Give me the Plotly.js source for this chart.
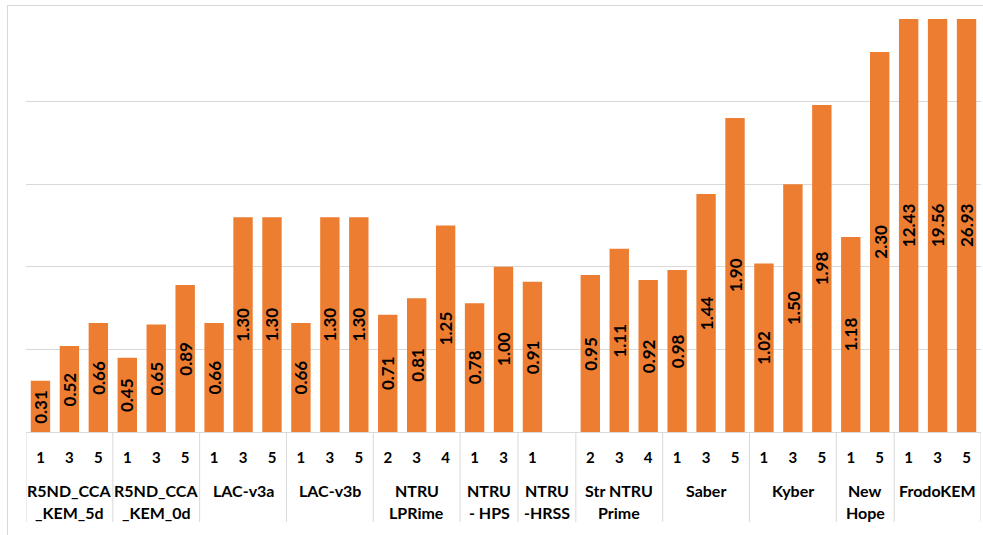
<!DOCTYPE html>
<html><head><meta charset="utf-8">
<script src="https://cdn.plot.ly/plotly-3.0.1.min.js"></script>
<style>
html,body{margin:0;padding:0;background:#fff;overflow:hidden}
#wrap{position:relative;width:983px;height:535px;overflow:hidden}
#chart{width:983px;height:535px}
#frame{position:absolute;left:7px;top:5px;width:1100px;height:700px;border:1px solid #d9d9d9;pointer-events:none}
</style></head><body>
<div id="wrap"><div id="chart"></div><div id="frame"></div></div>
<script>
const groups = ['R5ND_CCA<br>_KEM_5d', 'R5ND_CCA<br>_KEM_0d', 'LAC-v3a', 'LAC-v3b', 'NTRU<br>LPRime',
  'NTRU<br>- HPS', 'NTRU<br>-HRSS', 'Str NTRU<br>Prime', 'Saber', 'Kyber', 'New<br>Hope', 'FrodoKEM'];
const levels = [['1','3','5'], ['1','3','5'], ['1','3','5'], ['1','3','5'], ['2','3','4'], ['1','3'],
  ['1',''], ['2','3','4'], ['1','3','5'], ['1','3','5'], ['1','5'], ['1','3','5']];
const values = [[0.31,0.52,0.66], [0.45,0.65,0.89], [0.66,1.30,1.30], [0.66,1.30,1.30], [0.71,0.81,1.25],
  [0.78,1.00], [0.91,null], [0.95,1.11,0.92], [0.98,1.44,1.90], [1.02,1.50,1.98], [1.18,2.30], [12.43,19.56,26.93]];
const Y_MAX = 2.5;

const FAMILY = 'Lato, "Open Sans", sans-serif';
const BAR_FONT = {family:FAMILY, size:17, color:'#000000', weight:700};
const TICK_FONT = {family:FAMILY, size:15, color:'#000000', weight:700};
const GROUP_FONT = {family:FAMILY, size:16, color:'#000000', weight:700};
const GRID = '#d9d9d9';

const xs=[], ys=[], texts=[], tickvals=[], ticktext=[], centers=[], bounds=[-0.5];
let idx = 0;
groups.forEach((g, gi) => {
  const start = idx;
  levels[gi].forEach((lv, li) => {
    const v = values[gi][li];
    tickvals.push(idx); ticktext.push(lv);
    if (v !== null) { xs.push(idx); ys.push(v); texts.push(v.toFixed(2)); }
    idx++;
  });
  centers.push((start + idx - 1) / 2);
  bounds.push(idx - 0.5);
});
const nSlots = idx;

const trace = {
  type:'bar', x:xs, y:ys, marker:{color:'#ED7D31', line:{width:0}},
  hoverinfo:'none', cliponaxis:true
};

// data labels: centred within the visible part of each bar
const annotations = ys.map((v, k) => ({x:xs[k], y:Math.min(v, Y_MAX)/2, xref:'x', yref:'y',
  text:texts[k], textangle:-90, showarrow:false, font:BAR_FONT}));
groups.forEach((g, gi) => {
  g.split('<br>').forEach((line, li) => {
    annotations.push({x:centers[gi], xref:'x', y:0, yref:'paper', yanchor:'middle', yshift:-58 - 22*li,
      text:line, showarrow:false, font:GROUP_FONT});
  });
});

const shapes = bounds.map(b => ({type:'line', xref:'x', x0:b, x1:b, yref:'paper', ysizemode:'pixel', yanchor:0,
  y0:0, y1:-90, line:{color:GRID, width:1}}));

const layout = {
  width:983, height:535, margin:{l:26, r:2, t:19, b:103},
  paper_bgcolor:'#ffffff', plot_bgcolor:'#ffffff', showlegend:false, bargap:0.33,
  xaxis:{range:[-0.5, nSlots-0.5], tickvals:tickvals, ticktext:ticktext, showgrid:false, zeroline:false,
    showline:true, linecolor:GRID, linewidth:1, ticks:'', tickfont:TICK_FONT, ticklabelstandoff:12, fixedrange:true},
  yaxis:{range:[0, Y_MAX], dtick:0.5, showticklabels:false, showgrid:true, gridcolor:GRID, gridwidth:1,
    zeroline:false, showline:false, ticks:'', fixedrange:true},
  annotations:annotations, shapes:shapes
};
Plotly.newPlot('chart', [trace], layout, {displayModeBar:false, staticPlot:true});
</script>
</body></html>
